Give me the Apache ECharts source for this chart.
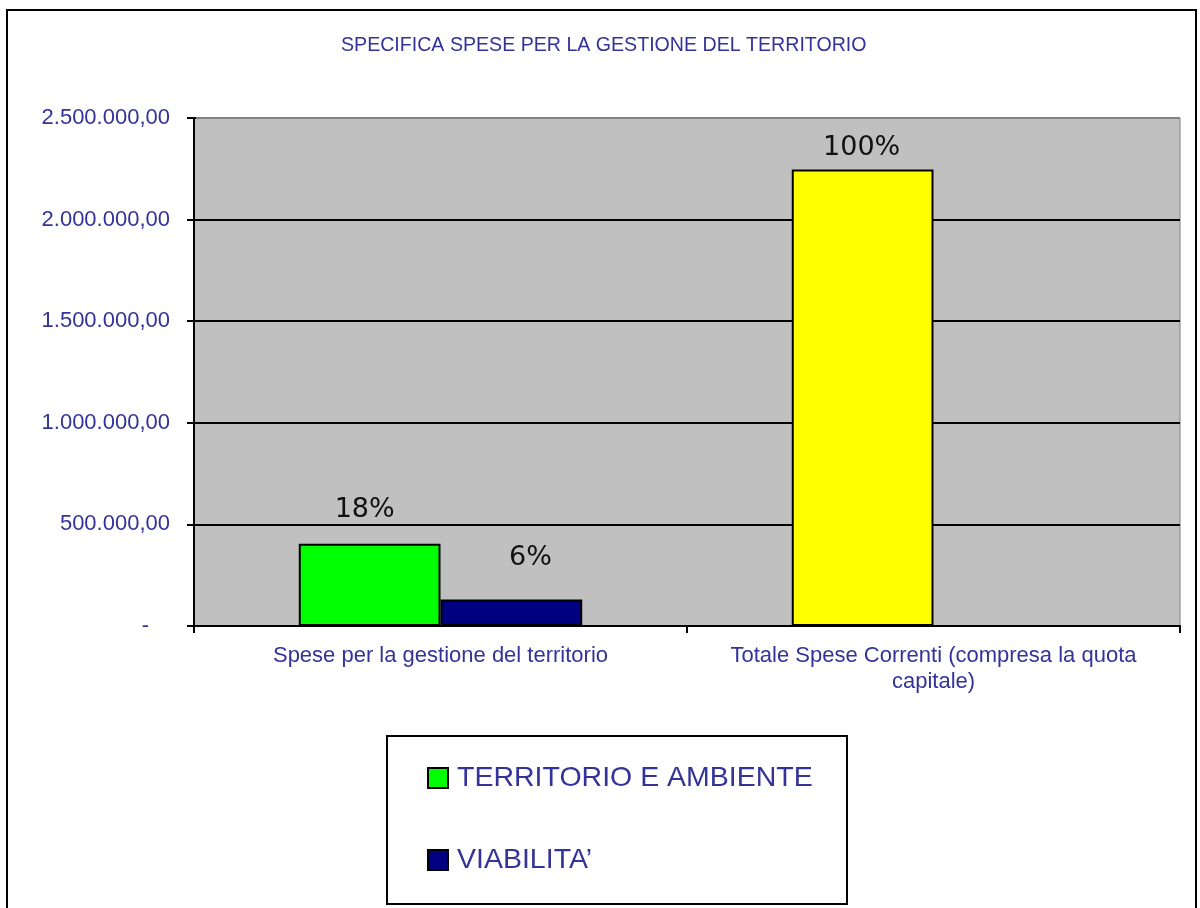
<!DOCTYPE html>
<html>
<head>
    <meta charset="utf-8">
    <title>Specifica spese per la gestione del territorio</title>
    <script src="https://cdn.jsdelivr.net/npm/echarts@6/dist/echarts.min.js"></script>
    <style>
        html, body { margin: 0; padding: 0; background: #fff; }
    </style>
</head>
<body>
    <div id="main" style="width: 1200px;height:908px;"></div>
    <script type="text/javascript">
        var chart = echarts.init(document.getElementById('main'));

        // dati
        var categorie = ['Spese per la gestione del territorio', 'Totale Spese Correnti (compresa la quota\ncapitale)'];
        var territorio = [405000, 2247000];   // il secondo valore e' il totale (barra gialla)
        var viabilita = [130000, '-'];
        var pctTerritorio = ['18%', '100%'];
        var pctViabilita = ['6%', ''];
        var coloriTerritorio = ['#00FF00', '#FFFF00'];

        var blu = '#333399';

        function euro(v) {
            if (v === 0) return '{d|-}';
            var s = String(Math.round(v));
            s = s.replace(/\B(?=(\d{3})+(?!\d))/g, '.');
            return s + ',00';
        }

        var option = {
            animation: false,
            backgroundColor: '#fff',
            title: {
                text: 'SPECIFICA SPESE PER LA GESTIONE DEL TERRITORIO',
                left: 336,
                top: 31,
                textStyle: {
                    color: blu,
                    fontFamily: 'Liberation Sans',
                    fontSize: 19.6,
                    fontWeight: 'normal'
                }
            },
            legend: {
                orient: 'vertical',
                left: 427,
                top: 763,
                padding: 0,
                itemWidth: 20,
                itemHeight: 20,
                itemGap: 52,
                icon: 'rect',
                data: ['TERRITORIO E AMBIENTE', 'VIABILITA\u2019'],
                textStyle: {
                    color: blu,
                    fontFamily: 'Liberation Sans',
                    fontSize: 28.5,
                    lineHeight: 30,
                    padding: [0, 0, 0, 4]
                }
            },
            graphic: [
                {   // cornice esterna
                    type: 'rect',
                    shape: { x: 7, y: 10, width: 1189, height: 1000 },
                    style: { fill: 'none', stroke: '#000', lineWidth: 2 },
                    silent: true
                },
                {   // riquadro legenda
                    type: 'rect',
                    shape: { x: 387, y: 736, width: 460, height: 168 },
                    style: { fill: 'none', stroke: '#000', lineWidth: 2 },
                    silent: true
                },
                {   // bordo superiore grigio dell'area del grafico
                    type: 'line',
                    z: 100,
                    shape: { x1: 196, y1: 118, x2: 1180, y2: 118 },
                    style: { stroke: '#808080', lineWidth: 2 },
                    silent: true
                }
            ],
            grid: {
                left: 194,
                right: 20,
                top: 118,
                bottom: 282,
                show: true,
                backgroundColor: '#C0C0C0',
                borderColor: '#808080',
                borderWidth: 1
            },
            xAxis: {
                type: 'category',
                data: categorie,
                axisLine: { lineStyle: { color: '#000', width: 2 } },
                axisTick: { show: true, length: 7, lineStyle: { color: '#000', width: 2 } },
                axisLabel: {
                    interval: 0,
                    margin: 17,
                    color: blu,
                    fontFamily: 'Liberation Sans',
                    fontSize: 22,
                    lineHeight: 26
                }
            },
            yAxis: {
                type: 'value',
                min: 0,
                max: 2500000,
                interval: 500000,
                axisLine: { show: true, lineStyle: { color: '#000', width: 2 } },
                axisTick: { show: true, length: 7, lineStyle: { color: '#000', width: 2 } },
                splitLine: { lineStyle: { color: '#000', width: 2 } },
                axisLabel: {
                    margin: 24,
                    color: blu,
                    fontFamily: 'Liberation Sans',
                    fontSize: 22,
                    formatter: euro,
                    rich: {
                        d: {
                            color: blu,
                            fontFamily: 'Liberation Sans',
                            fontSize: 22,
                            padding: [0, 21, 0, 0]
                        }
                    }
                }
            },
            series: [
                {
                    name: 'TERRITORIO E AMBIENTE',
                    type: 'bar',
                    barGap: '0%',
                    barCategoryGap: '42.5%',
                    itemStyle: { color: '#00FF00', borderColor: '#000', borderWidth: 2 },
                    data: territorio.map(function (v, i) {
                        return {
                            value: v,
                            itemStyle: { color: coloriTerritorio[i] },
                            label: { distance: [20, 7.5][i], offset: [[-5, 0], [-1, 0]][i] }
                        };
                    }),
                    label: {
                        show: true,
                        position: 'top',
                        color: '#111',
                        fontFamily: 'DejaVu Sans',
                        fontSize: 27,
                        formatter: function (p) { return pctTerritorio[p.dataIndex]; }
                    }
                },
                {
                    name: 'VIABILITA\u2019',
                    type: 'bar',
                    itemStyle: { color: '#000080', borderColor: '#000', borderWidth: 2 },
                    data: viabilita,
                    label: {
                        show: true,
                        position: 'top',
                        distance: 28.5,
                        offset: [19, 0],
                        color: '#111',
                        fontFamily: 'DejaVu Sans',
                        fontSize: 27,
                        formatter: function (p) { return pctViabilita[p.dataIndex]; }
                    }
                }
            ]
        };

        chart.setOption(option);
    </script>
</body>
</html>
